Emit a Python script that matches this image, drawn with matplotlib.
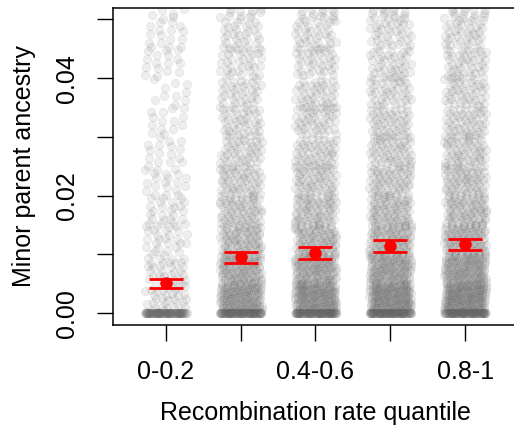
import numpy as np
import matplotlib.pyplot as plt

plt.rcParams['font.family'] = 'Liberation Sans'

groups = ['0-0.2', '0.2-0.4', '0.4-0.6', '0.6-0.8', '0.8-1']
shown = ['0-0.2', '', '0.4-0.6', '', '0.8-1']

# counts of windows per ancestry bin (bins 0.005 wide, last one up to the plot top)
bin_edges = [0, 0.005, 0.01, 0.015, 0.02, 0.025, 0.03, 0.035, 0.04, 0.045, 0.05, 0.052]
counts = [
    [36, 32, 25, 24, 20, 16, 14, 10, 16, 16, 6],
    [150, 110, 80, 65, 55, 45, 40, 36, 32, 30, 12],
    [170, 120, 90, 70, 58, 50, 44, 40, 36, 34, 14],
    [180, 130, 95, 75, 62, 54, 48, 42, 38, 36, 14],
    [190, 140, 100, 80, 66, 56, 50, 44, 40, 38, 15],
]
zero_counts = [80, 80, 80, 80, 80]

means = [0.0051, 0.0095, 0.0102, 0.0114, 0.0117]
sems = [0.0008, 0.0010, 0.0010, 0.0010, 0.00097]

fig = plt.figure(figsize=(5.14, 4.32), dpi=100)
ax = fig.add_axes([0.2208, 0.2477, 0.786, 0.7349])

pt_col = (0.4, 0.4, 0.4, 0.11)
jit = 0.28
a1, a2 = 0.7548776662, 0.5698402910
k = 0
for g in range(len(groups)):
    xs, ys = [], []
    for j in range(zero_counts[g]):
        xs.append(g + 1 + ((0.5 + a1 * k) % 1 - 0.5) * 2 * jit)
        ys.append(0.0)
        k += 1
    for b, n in enumerate(counts[g]):
        lo, hi = bin_edges[b], bin_edges[b + 1]
        for j in range(n):
            xs.append(g + 1 + ((0.5 + a1 * k) % 1 - 0.5) * 2 * jit)
            ys.append(lo + ((0.5 + a2 * k) % 1) * (hi - lo))
            k += 1
    ax.scatter(xs, ys, s=36, color=pt_col, edgecolors=pt_col, linewidths=0.6, zorder=2)

pos = np.arange(1, len(groups) + 1)
ax.errorbar(pos, means, yerr=sems, fmt='o', color='red', ms=8,
            elinewidth=2, capsize=12, capthick=2, zorder=3)

ax.set_xlim(0.3, 5.7)
ax.set_ylim(-0.002, 0.052)
ax.set_xticks(pos)
ax.set_xticklabels(shown, fontsize=18)
ax.set_yticks([0, 0.01, 0.02, 0.03, 0.04, 0.05])
ax.set_yticklabels(['0.00', '', '0.02', '', '0.04', ''], fontsize=18,
                   rotation=90, va='center')
ax.tick_params(direction='out', length=11.5, width=1, pad=14)
ax.tick_params(axis='y', pad=13)
for sp in ax.spines.values():
    sp.set_linewidth(1.1)

ax.set_xlabel('Recombination rate quantile', fontsize=18, labelpad=12)
ax.set_ylabel('Minor parent ancestry', fontsize=18, labelpad=14)

plt.savefig('out.png', dpi=100)
